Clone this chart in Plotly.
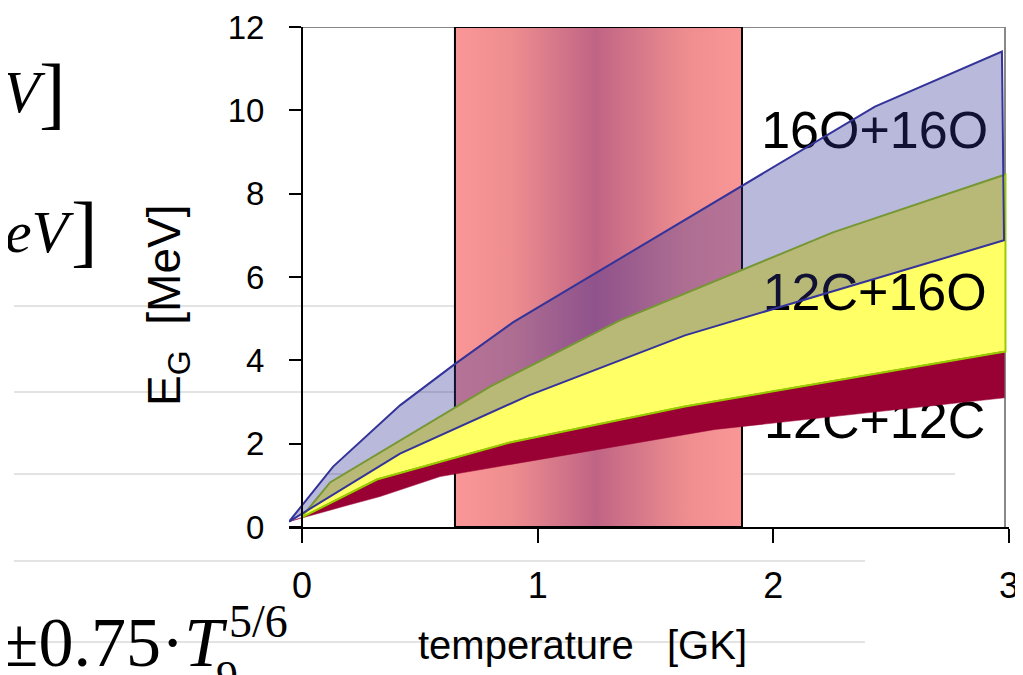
import plotly.graph_objects as go

# ---------------- data ----------------
# 16O+16O band (translucent blue)
o16_upper_x = [-0.055, 0.132, 0.416, 0.641, 0.895, 2.431, 2.970]
o16_upper_y = [0.13, 1.45, 2.92, 3.88, 4.91, 10.09, 11.41]
o16_lower_x = [-0.055, 0.416, 0.963, 1.625, 2.979]
o16_lower_y = [0.13, 1.76, 3.16, 4.60, 6.88]

# 12C+16O band (yellow)
c12o16_upper_x = [0.0, 0.119, 0.798, 1.349, 2.253, 2.985]
c12o16_upper_y = [0.25, 1.07, 3.37, 4.96, 7.07, 8.46]
c12o16_lower_x = [0.0, 0.318, 0.883, 1.625, 2.985]
c12o16_lower_y = [0.23, 1.14, 2.03, 2.89, 4.21]

# 12C+12C band (dark red)
c12c12_upper_x = [-0.055, 0.0, 0.318, 0.883, 1.625, 2.98]
c12c12_upper_y = [0.13, 0.23, 1.14, 2.03, 2.89, 4.21]
c12c12_lower_x = [-0.055, 0.174, 0.331, 0.586, 1.752, 2.98]
c12c12_lower_y = [0.13, 0.49, 0.73, 1.21, 2.34, 3.10]

# Gamow window (shaded temperature range)
window_x = [0.649, 1.867]
window_y = [0, 12]

labels = ["16O+16O", "12C+16O", "12C+12C"]
label_x = [2.43, 2.43, 2.43]
label_y = [9.42, 5.53, 2.46]

x_ticks = [0, 1, 2, 3]
y_ticks = [0, 2, 4, 6, 8, 10, 12]
x_range = [-0.0552, 3.0]
y_range = [0, 12]
frame_right = 2.983

x_title = "temperature\u00a0\u00a0\u00a0[GK]"
y_title = "E<sub>G</sub>\u00a0\u00a0[MeV]"

# ---------------- layout helpers ----------------
# the page body adds an 8 px offset, so the figure is drawn 8 px smaller
OFF = 8
W, H = 1023 - OFF, 675 - OFF
PL, PR, PT, PB = 289, 1009, 27, 527        # plot area in screen pixels
L, R, T, B = PL - OFF, W - (PR - OFF), PT - OFF, H - (PB - OFF)


def pxx(p):
    return (p - PL) / (PR - PL)


def pxy(p):
    return (PB - p) / (PB - PT)


SANS = "Arial, 'Liberation Sans', sans-serif"
SERIF = "'Times New Roman', 'Liberation Serif', serif"

fig = go.Figure()

# window rectangle with horizontal gradient
wx0, wx1 = window_x
wy0, wy1 = window_y
fig.add_trace(go.Scatter(
    x=[wx0, wx1, wx1, wx0, wx0], y=[wy0, wy0, wy1, wy1, wy0],
    mode="lines", fill="toself",
    fillgradient=dict(type="horizontal", colorscale=[
        [0.0, "rgb(250,150,150)"], [0.2, "rgb(238,141,143)"],
        [0.49, "rgb(192,100,133)"], [0.8, "rgb(238,141,143)"],
        [1.0, "rgb(250,150,150)"]]),
    line=dict(color="black", width=2),
    hoverinfo="skip", showlegend=False))

# 12C+16O band (yellow)
fig.add_trace(go.Scatter(
    x=c12o16_upper_x + c12o16_lower_x[::-1],
    y=c12o16_upper_y + c12o16_lower_y[::-1],
    mode="lines", fill="toself", fillcolor="#FFFF66",
    line=dict(color="#99CC00", width=2),
    hoverinfo="skip", showlegend=False))

# labels (under the other bands)
fig.add_trace(go.Scatter(
    x=label_x, y=label_y, mode="text", text=labels,
    textposition="middle center",
    textfont=dict(family=SANS, size=52, color="black"),
    hoverinfo="skip", showlegend=False))

# 12C+12C band (dark red)
fig.add_trace(go.Scatter(
    x=c12c12_upper_x + c12c12_lower_x[::-1],
    y=c12c12_upper_y + c12c12_lower_y[::-1],
    mode="lines", fill="toself", fillcolor="#990033",
    line=dict(color="#990033", width=0.5),
    hoverinfo="skip", showlegend=False))
fig.add_trace(go.Scatter(
    x=c12o16_lower_x, y=c12o16_lower_y, mode="lines",
    line=dict(color="#99CC00", width=2),
    hoverinfo="skip", showlegend=False))

# 16O+16O band (translucent blue)
fig.add_trace(go.Scatter(
    x=o16_upper_x + o16_lower_x[::-1],
    y=o16_upper_y + o16_lower_y[::-1],
    mode="lines", fill="toself", fillcolor="rgba(51,51,153,0.34)",
    line=dict(color="#333399", width=2),
    hoverinfo="skip", showlegend=False))

shapes = []
# faint ruled lines of the slide background
for yy, x1 in [(306, 955), (392, 955), (474, 955), (561, 865), (642, 865)]:
    shapes.append(dict(type="line", xref="paper", yref="paper",
                       x0=pxx(14), x1=pxx(x1), y0=pxy(yy), y1=pxy(yy),
                       line=dict(color="#DADADA", width=1.5), layer="below"))
# gray frame top / right
shapes.append(dict(type="line", xref="x", yref="y", x0=0, x1=frame_right,
                   y0=y_range[1], y1=y_range[1],
                   line=dict(color="#888888", width=2), layer="below"))
shapes.append(dict(type="line", xref="x", yref="y", x0=frame_right,
                   x1=frame_right, y0=y_range[0], y1=y_range[1],
                   line=dict(color="#888888", width=2), layer="below"))

annotations = [
    dict(text=x_title, xref="paper", yref="paper", x=pxx(582), y=pxy(645),
         showarrow=False, font=dict(family=SANS, size=40, color="black"),
         xanchor="center", yanchor="middle"),
    dict(text=y_title, xref="paper", yref="paper", x=pxx(167), y=pxy(306),
         showarrow=False, textangle=-90,
         font=dict(family=SANS, size=46, color="black"),
         xanchor="center", yanchor="middle"),
    # cropped formula fragments at the left edge
    dict(text="<i>V</i>", xref="paper", yref="paper", x=pxx(48), y=pxy(92),
         showarrow=False, font=dict(family=SERIF, size=60, color="black"),
         xanchor="right", yanchor="middle"),
    dict(text="]", xref="paper", yref="paper", x=pxx(68), y=pxy(92),
         showarrow=False, font=dict(family=SERIF, size=80, color="black"),
         xanchor="right", yanchor="middle"),
    dict(text="<i>MeV</i>", xref="paper", yref="paper", x=pxx(77), y=pxy(232),
         showarrow=False, font=dict(family=SERIF, size=60, color="black"),
         xanchor="right", yanchor="middle"),
    dict(text="]", xref="paper", yref="paper", x=pxx(100), y=pxy(230),
         showarrow=False, font=dict(family=SERIF, size=80, color="black"),
         xanchor="right", yanchor="middle"),
    dict(text="\u00b10.75\u00b7<i>T</i>", xref="paper", yref="paper",
         x=pxx(230), y=pxy(642), showarrow=False,
         font=dict(family=SERIF, size=70, color="black"),
         xanchor="right", yanchor="middle"),
    dict(text="9", xref="paper", yref="paper", x=pxx(214), y=pxy(676),
         showarrow=False, font=dict(family=SERIF, size=44, color="black"),
         xanchor="left", yanchor="middle"),
    dict(text="5/6", xref="paper", yref="paper", x=pxx(227), y=pxy(621),
         showarrow=False, font=dict(family=SERIF, size=46, color="black"),
         xanchor="left", yanchor="middle"),
]

fig.update_layout(
    width=W, height=H,
    margin=dict(l=L, r=R, t=T, b=B, pad=0, autoexpand=False),
    paper_bgcolor="white", plot_bgcolor="rgba(0,0,0,0)",
    showlegend=False,
    shapes=shapes, annotations=annotations,
    xaxis=dict(range=x_range, tickvals=x_ticks, ticktext=[str(v) for v in x_ticks],
               automargin=False,
               ticks="outside", ticklen=14, tickwidth=1.5, tickcolor="black",
               showline=True, linecolor="black", linewidth=2,
               showgrid=False, zeroline=False, ticklabelstandoff=12,
               tickfont=dict(family=SANS, size=36, color="black")),
    yaxis=dict(range=y_range, tickvals=y_ticks, ticktext=[str(v) for v in y_ticks],
               automargin=False,
               anchor="free", position=pxx(302),
               ticks="outside", ticklen=12, tickwidth=1.5, tickcolor="black",
               showline=True, linecolor="black", linewidth=2,
               showgrid=False, zeroline=False, ticklabelstandoff=18,
               tickfont=dict(family=SANS, size=33, color="black")),
)

fig.write_html("out.html")
